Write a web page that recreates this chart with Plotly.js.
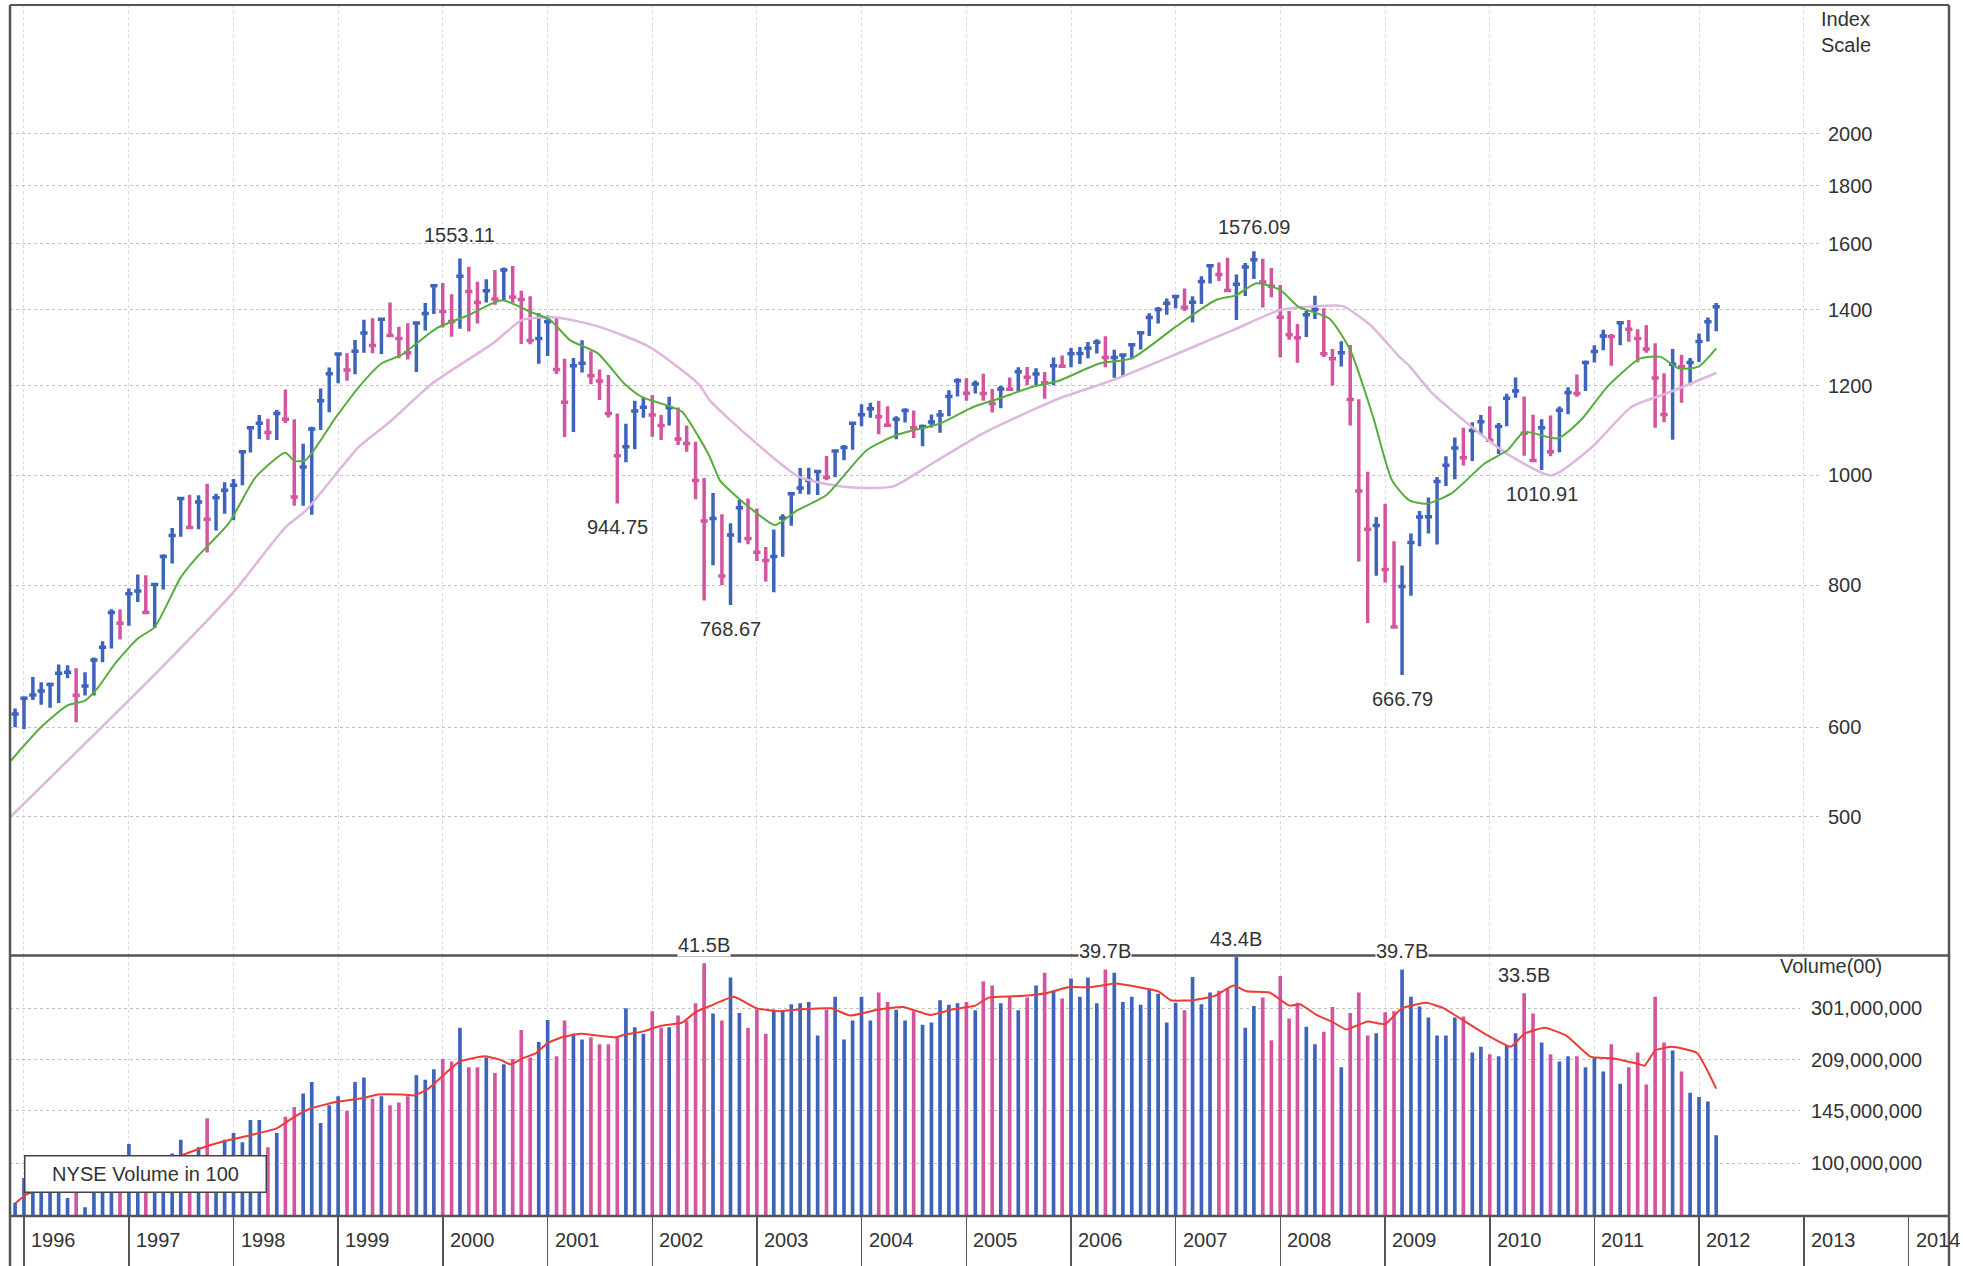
<!DOCTYPE html>
<html>
<head>
<meta charset="utf-8">
<script src="https://cdn.plot.ly/plotly-3.0.1.min.js"></script>
<style>
html,body{margin:0;padding:0;background:#fff;}
#chart{width:1963px;height:1266px;}
</style>
</head>
<body>
<div id="chart"></div>
<script>
// ---------------- DATA ----------------
// Monthly bars, first bar = December 1995
const START_YEAR = 1995, START_MONTH = 12;

const HIGH = [
622.9,
638.5,664.2,657.0,656.7,681.1,680.3,675.9,670.7,690.9,714.1,762.1,761.8,
794.7,817.7,816.3,804.1,851.9,898.7,957.7,961.3,960.6,983.1,963.3,986.3,
992.7,1050.9,1105.7,1130.5,1122.1,1142.2,1190.6,1121.0,1066.1,1103.8,1193.0,1244.9,
1283.0,1281.3,1316.6,1371.6,1376.0,1372.9,1420.3,1352.0,1361.6,1365.8,1418.8,1473.1,
1478.0,1444.6,1553.1,1527.2,1481.5,1488.9,1517.3,1525.2,1530.1,1454.8,1438.5,1389.6,
1383.4,1376.4,1267.4,1269.3,1315.9,1286.6,1239.8,1226.3,1134.0,1110.6,1163.4,1173.0,
1177.0,1130.2,1173.0,1147.8,1106.6,1070.7,994.5,965.0,924.0,907.4,951.6,954.3,
935.1,864.6,895.9,924.2,965.4,1015.3,1015.4,1011.0,1040.3,1053.8,1063.7,1112.0,
1155.4,1159.0,1163.2,1150.6,1127.7,1146.3,1140.8,1108.6,1131.5,1142.1,1188.5,1217.9,
1217.9,1212.4,1229.1,1191.9,1199.6,1219.6,1245.2,1245.9,1243.1,1233.3,1270.6,1275.8,
1294.9,1297.6,1310.9,1318.2,1326.7,1290.7,1280.4,1307.4,1340.3,1389.5,1407.9,1431.8,
1441.6,1461.6,1438.9,1498.0,1535.6,1540.6,1555.9,1503.9,1538.7,1576.1,1552.8,1523.6,
1471.8,1396.0,1359.7,1397.0,1440.2,1404.1,1292.2,1313.2,1303.0,1167.0,1007.5,918.9,
943.9,875.0,833.0,888.7,930.2,956.2,996.7,1039.5,1080.2,1101.4,1113.7,1130.4,
1150.5,1112.4,1180.2,1219.8,1173.6,1131.2,1121.0,1129.2,1150.0,1196.1,1227.1,1262.6,
1302.7,1344.1,1332.3,1366.4,1370.6,1345.2,1356.5,1307.4,1230.7,1292.7,1277.6,1269.4,
1333.5,1378.0,1419.2
];

const LOW = [
599.6,
597.3,633.7,627.6,624.0,630.1,662.4,605.9,639.5,639.7,684.3,703.6,716.7,
737.0,773.4,756.0,733.5,793.2,836.4,883.0,898.8,896.6,855.3,894.2,925.0,
912.8,980.3,1047.3,1076.7,1074.4,1074.4,1112.4,940.0,940.0,923.3,1096.7,1136.9,
1205.5,1211.7,1228.0,1282.5,1281.4,1279.6,1328.7,1268.4,1265.5,1233.7,1342.2,1387.4,
1350.1,1325.1,1346.6,1339.4,1361.1,1420.6,1413.9,1425.4,1419.4,1305.8,1305.0,1254.1,
1274.6,1228.3,1081.2,1092.0,1232.0,1203.0,1165.5,1124.9,944.75,1026.8,1054.3,1124.4,
1081.7,1074.4,1106.7,1063.5,1049.0,952.9,775.7,833.4,800.2,768.67,872.1,869.5,
840.3,806.3,788.9,847.9,902.8,963.4,962.1,960.8,990.4,996.0,1031.2,1053.4,
1105.1,1124.4,1087.2,1105.1,1076.3,1113.3,1078.8,1060.7,1102.0,1090.2,1127.6,1173.4,
1163.8,1180.9,1163.7,1136.2,1146.2,1188.3,1183.6,1201.1,1201.1,1168.2,1201.1,1246.6,
1245.7,1253.6,1268.4,1280.7,1245.3,1219.3,1224.5,1265.9,1290.9,1327.1,1361.0,1385.9,
1404.0,1396.5,1364.0,1416.4,1476.7,1484.2,1454.3,1370.6,1439.3,1489.6,1406.1,1435.7,
1270.1,1316.8,1257.0,1324.4,1373.7,1272.0,1200.4,1247.5,1106.4,839.8,741.0,815.7,
804.5,734.5,666.79,783.3,866.1,888.9,869.3,978.5,992.0,1020.2,1029.4,1085.9,
1071.6,1044.5,1105.0,1170.7,1040.8,1028.3,1010.91,1039.7,1048.0,1131.9,1173.0,1186.6,
1257.6,1289.1,1249.1,1302.6,1311.8,1258.1,1282.9,1101.5,1114.2,1074.8,1158.7,1202.4,
1258.9,1312.4,1340.0
];

const CLOSE = [
615.9,
636.0,640.4,645.5,654.2,669.1,670.6,640.0,652.0,687.3,705.3,757.0,740.7,
786.2,790.8,757.1,801.3,848.3,885.1,954.3,899.5,947.3,914.6,955.4,970.4,
980.3,1049.3,1101.8,1111.8,1090.8,1133.8,1120.7,957.3,1017.0,1098.7,1163.6,1229.2,
1279.6,1238.3,1286.4,1335.2,1301.8,1372.7,1328.7,1320.4,1282.7,1362.9,1388.9,1469.3,
1394.5,1366.4,1498.6,1452.4,1420.6,1454.6,1430.8,1517.7,1436.5,1429.4,1315.0,1320.3,
1366.0,1239.9,1160.3,1249.5,1255.8,1224.4,1211.2,1133.6,1040.9,1059.8,1139.5,1148.1,
1130.2,1106.7,1147.4,1076.9,1067.1,989.8,911.6,916.1,815.3,885.8,936.3,879.8,
855.7,841.2,848.2,916.9,963.6,974.5,990.3,1008.0,996.0,1050.7,1058.2,1111.9,
1131.1,1144.9,1126.2,1107.3,1120.7,1140.8,1101.7,1104.2,1114.6,1130.2,1173.8,1211.9,
1181.3,1203.6,1180.6,1156.9,1191.5,1191.3,1234.2,1220.3,1228.8,1207.0,1249.5,1248.3,
1280.1,1280.7,1294.8,1310.6,1270.1,1270.2,1276.7,1303.8,1335.9,1377.9,1400.6,1418.3,
1438.2,1406.8,1420.9,1482.4,1530.6,1503.4,1455.3,1474.0,1526.8,1549.4,1481.1,1468.4,
1378.6,1330.6,1322.7,1385.6,1400.4,1280.0,1267.4,1282.8,1166.4,968.8,896.2,903.3,
825.9,735.1,797.9,872.8,919.1,919.3,987.5,1020.6,1057.1,1036.2,1095.6,1115.1,
1073.9,1104.5,1169.4,1186.7,1089.4,1030.7,1101.6,1049.3,1141.2,1183.3,1180.6,1257.6,
1286.1,1327.2,1325.8,1363.6,1345.2,1320.6,1292.3,1218.9,1131.4,1253.3,1247.0,1257.6,
1312.4,1365.7,1408.5
];

// NYSE monthly volume in hundreds of shares
const VOLUME = [
75.4e6,
89.9e6,95e6,93e6,98e6,92e6,78e6,95e6,73e6,86e6,93e6,90e6,92e6,
114.6e6,100e6,98e6,100e6,98e6,107e6,118e6,100e6,112e6,137.6e6,100e6,118e6,
124e6,116e6,136e6,136e6,112e6,124e6,139e6,149e6,164e6,178e6,133e6,151e6,
161e6,145e6,178e6,184e6,158e6,161e6,151e6,154e6,161e6,187e6,181e6,195e6,
210e6,206e6,262e6,198e6,198e6,212e6,190e6,202e6,210e6,258e6,212e6,237e6,
277e6,214e6,276e6,251e6,241e6,245e6,233e6,233e6,245e6,301e6,263e6,251e6,
295e6,262e6,263e6,286e6,276e6,312e6,415e6,290e6,276e6,375e6,291e6,262e6,
299e6,251e6,298e6,297e6,310e6,312e6,315e6,248e6,298e6,327e6,241e6,276e6,
327e6,276e6,337e6,315e6,298e6,276e6,295e6,268e6,272e6,319e6,309e6,312e6,
315e6,297e6,365e6,354e6,312e6,327e6,297e6,325e6,354e6,388e6,342e6,323e6,
372e6,327e6,375e6,312e6,397e6,388e6,315e6,327e6,309e6,346e6,334e6,272e6,
313e6,297e6,376e6,310e6,337e6,341e6,347e6,434e6,262e6,306e6,325e6,240e6,
379e6,280e6,313e6,264e6,233e6,255e6,304e6,198e6,291e6,337e6,248e6,252e6,
293e6,295e6,397e6,327e6,305e6,282e6,248e6,248e6,282e6,284e6,220e6,229e6,
217e6,214e6,232e6,252e6,335e6,290e6,236e6,217e6,206e6,214e6,214e6,198e6,
213e6,192e6,233e6,176e6,198e6,220e6,175e6,327e6,236e6,223e6,192e6,165e6,
160e6,155e6,122e6
];

// Fast moving average of the index (green)
const MA_FAST_DATES = ['1995-11-15','1996-03-01','1996-06-01','1996-08-01','1996-09-15','1996-11-15','1997-02-01','1997-04-01','1997-07-01','1997-09-01','1997-12-15','1998-03-20','1998-07-01','1998-08-01','1998-09-10','1998-12-25','1999-03-15','1999-06-01','1999-08-10','1999-12-10','2000-04-01','2000-07-25','2000-11-01','2001-01-10','2001-03-20','2001-06-25','2001-09-25','2001-11-25','2002-02-20','2002-04-15','2002-06-15','2002-07-20','2002-08-25','2002-10-10','2002-12-20','2003-03-05','2003-05-20','2003-09-01','2004-01-20','2004-05-10','2004-10-01','2005-01-25','2005-04-25','2005-08-20','2005-11-20','2006-04-10','2006-08-01','2007-01-01','2007-05-20','2007-08-01','2007-10-10','2008-01-01','2008-03-05','2008-06-20','2008-09-01','2008-11-20','2009-01-25','2009-03-25','2009-05-25','2009-08-20','2009-12-15','2010-03-05','2010-05-01','2010-08-25','2010-11-15','2011-02-15','2011-06-10','2011-08-20','2011-10-20','2011-12-30','2012-03-01'];
const MA_FAST = [560,600,627,633,650,683,718,735,813,850,907,997,1047,1030,1032,1126,1197,1255,1277,1348,1385,1427,1394,1371,1316,1281,1205,1173,1153,1138,1078,1039,990,964,931,904,931,961,1053,1087,1111,1149,1169,1197,1212,1255,1268,1352,1427,1442,1477,1457,1408,1375,1290,1126,990,951,944,964,1025,1053,1092,1078,1119,1197,1268,1272,1243,1247,1294];

// Slow moving average of the index (light pink)
const MA_SLOW_DATES = ['1995-11-15','1997-04-05','1998-01-01','1998-07-01','1998-09-10','1999-03-15','1999-07-01','1999-11-25','2000-06-25','2000-10-05','2001-02-01','2001-07-01','2001-12-20','2002-04-15','2002-06-15','2002-07-20','2002-12-05','2003-05-28','2003-11-20','2004-04-20','2004-09-05','2005-02-28','2005-08-20','2005-11-20','2006-06-10','2007-01-25','2007-07-20','2008-01-01','2008-05-05','2008-08-05','2008-11-10','2009-02-20','2009-03-25','2009-06-15','2009-12-05','2010-03-10','2010-08-05','2010-12-25','2011-05-10','2011-09-10','2012-03-01'];
const MA_SLOW = [500,669,789,900,931,1060,1115,1205,1308,1371,1378,1352,1299,1238,1201,1165,1081,997,976,978,1025,1089,1142,1169,1217,1286,1343,1399,1410,1410,1357,1272,1250,1181,1085,1042,1000,1060,1149,1181,1231];

// Volume moving average (red)
const VOL_MA_DATES = ['1995-12-01','1996-01-10','1996-06-01','1997-01-01','1997-06-01','1997-08-25','1997-12-01','1998-03-01','1998-06-01','1998-08-01','1998-10-01','1999-01-01','1999-04-01','1999-05-20','1999-08-10','1999-09-25','1999-11-12','2000-01-12','2000-02-28','2000-05-25','2000-07-18','2000-08-25','2000-10-12','2000-11-22','2001-01-01','2001-02-20','2001-04-25','2001-06-25','2001-08-28','2001-09-28','2001-11-28','2002-02-01','2002-04-15','2002-06-01','2002-07-25','2002-10-12','2003-01-01','2003-03-15','2003-06-01','2003-09-18','2003-11-22','2004-02-25','2004-05-25','2004-08-28','2004-11-15','2005-02-01','2005-03-20','2005-07-20','2005-10-05','2005-12-22','2006-03-10','2006-06-05','2006-08-25','2006-11-01','2006-12-15','2007-03-03','2007-05-18','2007-07-22','2007-09-05','2007-11-25','2008-02-01','2008-03-10','2008-05-05','2008-07-05','2008-08-18','2008-11-01','2009-01-01','2009-02-28','2009-05-25','2009-07-25','2009-09-20','2009-12-18','2010-03-15','2010-05-01','2010-07-12','2010-09-25','2010-12-20','2011-03-03','2011-06-01','2011-06-25','2011-08-01','2011-09-28','2011-12-25','2012-03-01'];
const VOL_MA = [75e6,80e6,88e6,95e6,103e6,110e6,117e6,122e6,128e6,139e6,148e6,155e6,159e6,163e6,163e6,162e6,170e6,190e6,206e6,214e6,209e6,202e6,212e6,219e6,235e6,245e6,251e6,248e6,245e6,250e6,255e6,266e6,272e6,293e6,307e6,327e6,301e6,295e6,299e6,301e6,286e6,298e6,304e6,287e6,299e6,307e6,325e6,329e6,335e6,350e6,350e6,359e6,350e6,340e6,319e6,319e6,329e6,354e6,340e6,337e6,307e6,310e6,288e6,272e6,259e6,274e6,269e6,301e6,313e6,301e6,280e6,250e6,229e6,251e6,262e6,248e6,213e6,211e6,203e6,200e6,223e6,229e6,219e6,170e6];

const PRICE_TICKS = [500,600,800,1000,1200,1400,1600,1800,2000];
const VOL_TICKS = [100000000,145000000,209000000,301000000];
const VOL_TICK_TEXT = ['100,000,000','145,000,000','209,000,000','301,000,000'];
const YEAR_LABELS = ['1996','1997','1998','1999','2000','2001','2002','2003','2004','2005','2006','2007','2008','2009','2010','2011','2012','2013','2014'];

const PRICE_NOTES = [
  {date:'2000-03-01', value:1553.11, text:'1553.11', above:true},
  {date:'2001-09-01', value:944.75,  text:'944.75',  above:false},
  {date:'2002-10-01', value:768.67,  text:'768.67',  above:false},
  {date:'2007-10-01', value:1576.09, text:'1576.09', above:true},
  {date:'2009-03-01', value:666.79,  text:'666.79',  above:false},
  {date:'2010-07-01', value:1010.91, text:'1010.91', above:false}
];
const VOLUME_NOTES = [
  {date:'2002-07-01', text:'41.5B'},
  {date:'2006-05-01', text:'39.7B'},
  {date:'2007-08-01', text:'43.4B'},
  {date:'2009-03-01', text:'39.7B'},
  {date:'2010-05-01', text:'33.5B'}
];

// ---------------- STYLE / LAYOUT ----------------
const W = 1963, H = 1266;
const BLUE = '#3e63bb', PINK = '#d4559f';
const GREEN = '#56ad3c', LILAC = '#ddb7dd', RED = '#f03a34';
const FRAME = '#555555', TEXT = '#333333';
const FONT = 'Liberation Sans, Arial, Helvetica, sans-serif';

const X_LEFT = 10, PRICE_RIGHT = 1820, VOL_RIGHT = 1800, FRAME_RIGHT = 1949;
const TOP = 5, DIVIDER = 955.5, VOL_BOTTOM = 1216;
const PX_1996 = 24, PX_PER_YEAR = 104.7;

function pxToDate(px){
  const y = 1996 + (px - PX_1996) / PX_PER_YEAR;
  const yr = Math.floor(y), frac = y - yr;
  const t0 = Date.UTC(yr,0,1), t1 = Date.UTC(yr+1,0,1);
  return new Date(t0 + frac*(t1-t0)).toISOString().replace('T',' ').slice(0,19);
}
const px = v => v / W;
const py = v => (H - v) / H;

// month dates
const DATES = CLOSE.map((_, i) => {
  const d = new Date(Date.UTC(START_YEAR, START_MONTH - 1 + i, 1));
  return d.toISOString().slice(0,10);
});
const UP = CLOSE.map((c, i) => i === 0 ? true : c >= CLOSE[i-1]);

function ohlcTrace(flag, color){
  const x=[], o=[], h=[], l=[], c=[];
  DATES.forEach((d,i)=>{ if(UP[i]===flag){ x.push(d); o.push(CLOSE[i]); h.push(HIGH[i]); l.push(LOW[i]); c.push(CLOSE[i]); } });
  return {type:'ohlc', x:x, open:o, high:h, low:l, close:c, xaxis:'x', yaxis:'y',
    increasing:{line:{color:color, width:3.5}}, decreasing:{line:{color:color, width:3.5}},
    tickwidth:0.45, hoverinfo:'skip', showlegend:false};
}

const dateOf = s => DATES.indexOf(s);

const traces = [
  {type:'scatter', mode:'lines', x:MA_SLOW_DATES, y:MA_SLOW, xaxis:'x', yaxis:'y',
    line:{color:LILAC, width:2.5, shape:'spline', smoothing:0.6}, hoverinfo:'skip', showlegend:false},
  {type:'scatter', mode:'lines', x:MA_FAST_DATES, y:MA_FAST, xaxis:'x', yaxis:'y',
    line:{color:GREEN, width:2, shape:'spline', smoothing:0.6}, hoverinfo:'skip', showlegend:false},
  ohlcTrace(true, BLUE),
  ohlcTrace(false, PINK),
  {type:'bar', x:DATES, y:VOLUME, xaxis:'x2', yaxis:'y2',
    marker:{color:UP.map(u => u ? BLUE : PINK), line:{width:0}},
    width:0.42*30.44*86400000, hoverinfo:'skip', showlegend:false},
  {type:'scatter', mode:'lines', x:VOL_MA_DATES, y:VOL_MA, xaxis:'x2', yaxis:'y2',
    line:{color:RED, width:2, shape:'spline', smoothing:0.4}, hoverinfo:'skip', showlegend:false},
  {type:'scatter', mode:'markers', x:['2000-01-01'], y:[0.5], xaxis:'x3', yaxis:'y3',
    marker:{opacity:0}, hoverinfo:'skip', showlegend:false}
];

const annotations = [];
PRICE_NOTES.forEach(n => annotations.push({
  xref:'x', yref:'y', x:n.date, y:Math.log10(n.value), text:n.text, showarrow:false,
  xanchor:'center', yanchor:'middle', yshift: n.above ? 24 : -24,
  font:{family:FONT, size:20, color:TEXT}
}));
VOLUME_NOTES.forEach(n => annotations.push({
  xref:'x2', yref:'y2', x:n.date, y:Math.log10(VOLUME[dateOf(n.date)]), text:n.text, showarrow:false,
  xanchor:'center', yanchor:'middle', yshift:18, bgcolor:'#ffffff', borderpad:0,
  font:{family:FONT, size:20, color:TEXT}
}));
YEAR_LABELS.forEach(y => annotations.push({
  xref:'x3', yref:'paper', x:y + '-01-01', y:py(1240), text:y, showarrow:false,
  xanchor:'left', yanchor:'middle', xshift:5,
  font:{family:FONT, size:20, color:TEXT}
}));
annotations.push({xref:'paper', yref:'paper', x:px(1819), y:py(6), text:'Index<br>Scale',
  showarrow:false, xanchor:'left', yanchor:'top', align:'left',
  font:{family:FONT, size:20, color:TEXT}});
annotations.push({xref:'paper', yref:'paper', x:px(1778), y:py(966), text:'Volume(00)',
  showarrow:false, xanchor:'left', yanchor:'middle',
  font:{family:FONT, size:20, color:TEXT}});
annotations.push({xref:'paper', yref:'paper', x:px(145.5), y:py(1173.5), text:'NYSE Volume in 100',
  showarrow:false, xanchor:'center', yanchor:'middle', width:240, height:35,
  bgcolor:'#ffffff', bordercolor:'#444444', borderwidth:1.5, borderpad:0,
  font:{family:FONT, size:20, color:TEXT}});

const line = (x0,y0,x1,y1,w) => ({type:'line', xref:'paper', yref:'paper', x0:px(x0), y0:py(y0), x1:px(x1), y1:py(y1), line:{color:FRAME, width:w}, layer:'above'});
const shapes = [
  line(X_LEFT, TOP, FRAME_RIGHT, TOP, 2),
  line(X_LEFT, TOP, X_LEFT, H, 2.5),
  line(FRAME_RIGHT, TOP, FRAME_RIGHT, H, 2.5),
  line(X_LEFT, DIVIDER, FRAME_RIGHT, DIVIDER, 2.5),
  line(X_LEFT, VOL_BOTTOM, FRAME_RIGHT, VOL_BOTTOM, 2.5)
];

const gridX = {type:'date', showgrid:true, gridcolor:'#dadada', griddash:'dot', gridwidth:1,
  tick0:'1996-01-01', dtick:'M12', showticklabels:false, ticks:'', zeroline:false, showline:false,
  automargin:false, fixedrange:true};

const layout = {
  width:W, height:H, margin:{l:0, r:0, t:0, b:0},
  paper_bgcolor:'#ffffff', plot_bgcolor:'#ffffff',
  showlegend:false, hovermode:false, dragmode:false,
  font:{family:FONT, size:20, color:TEXT},
  xaxis: Object.assign({}, gridX, {domain:[px(X_LEFT), px(PRICE_RIGHT)],
    range:[pxToDate(X_LEFT), pxToDate(PRICE_RIGHT)], anchor:'y', rangeslider:{visible:false}}),
  yaxis: {type:'log', domain:[py(DIVIDER), py(TOP)],
    range:[Math.log10(377.3), Math.log10(2598.6)], side:'right', anchor:'x',
    tickvals:PRICE_TICKS, ticktext:PRICE_TICKS.map(String), ticks:'', ticklabelstandoff:7,
    showgrid:true, gridcolor:'#c2c2c2', griddash:'dot', gridwidth:1, zeroline:false, showline:false,
    tickfont:{family:FONT, size:20, color:TEXT}, automargin:false, fixedrange:true},
  xaxis2: Object.assign({}, gridX, {domain:[px(X_LEFT), px(VOL_RIGHT)],
    range:[pxToDate(X_LEFT), pxToDate(VOL_RIGHT)], anchor:'y2'}),
  yaxis2: {type:'log', domain:[py(VOL_BOTTOM), py(DIVIDER)],
    range:[Math.log10(68.6e6), Math.log10(438.6e6)], side:'right', anchor:'x2',
    tickvals:VOL_TICKS, ticktext:VOL_TICK_TEXT, ticks:'', ticklabelstandoff:10,
    showgrid:true, gridcolor:'#c2c2c2', griddash:'dot', gridwidth:1, zeroline:false, showline:false,
    tickfont:{family:FONT, size:20, color:TEXT}, automargin:false, fixedrange:true},
  xaxis3: {type:'date', domain:[px(X_LEFT), px(FRAME_RIGHT)],
    range:[pxToDate(X_LEFT), pxToDate(FRAME_RIGHT)], anchor:'y3', side:'top',
    tick0:'1996-01-01', dtick:'M12', ticks:'inside', ticklen:50, tickwidth:1.5, tickcolor:FRAME,
    showticklabels:false, showgrid:false, zeroline:false, showline:false, automargin:false, fixedrange:true},
  yaxis3: {domain:[0, py(VOL_BOTTOM)], range:[0,1], visible:false, fixedrange:true},
  annotations: annotations,
  shapes: shapes
};

Plotly.newPlot('chart', traces, layout, {staticPlot:true, displayModeBar:false});
</script>
</body>
</html>
